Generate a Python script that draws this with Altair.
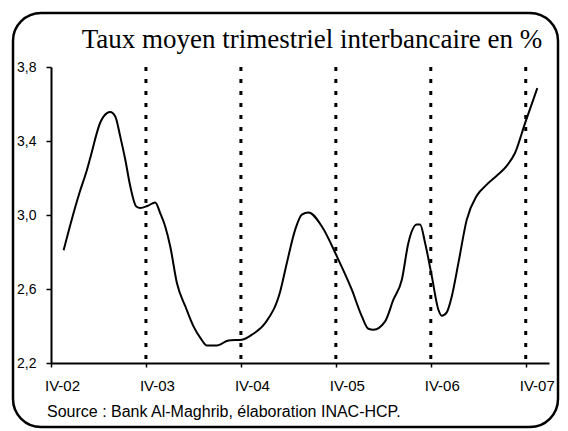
import altair as alt
import pandas as pd

# Years elapsed since IV-02 (x position) and interbank rate in %
period_years = [0.133, 0.221, 0.300, 0.379, 0.414, 0.519, 0.589, 0.624, 0.677, 0.729,
                0.782, 0.835, 0.898, 0.940, 1.020, 1.098, 1.150, 1.203, 1.256, 1.326,
                1.420, 1.501, 1.580, 1.642, 1.747, 1.869, 2.011, 2.116, 2.256, 2.414,
                2.484, 2.572, 2.642, 2.712, 2.853, 3.011, 3.168, 3.274, 3.343, 3.396,
                3.519, 3.606, 3.695, 3.764, 3.853, 3.887, 3.940, 4.011, 4.080, 4.116,
                4.168, 4.221, 4.291, 4.379, 4.484, 4.589, 4.700, 4.800, 4.887, 4.993,
                5.122]
rate = [2.81, 2.98, 3.12, 3.245, 3.31, 3.50, 3.551, 3.557, 3.533, 3.425,
        3.30, 3.155, 3.046, 3.038, 3.05, 3.068, 3.01, 2.938, 2.83, 2.632,
        2.50, 2.398, 2.33, 2.294, 2.294, 2.322, 2.326, 2.353, 2.416, 2.587,
        2.741, 2.921, 3.002, 3.014, 2.938, 2.776, 2.596, 2.452, 2.385, 2.380,
        2.425, 2.542, 2.650, 2.849, 2.948, 2.948, 2.849, 2.668, 2.488, 2.456,
        2.474, 2.560, 2.741, 2.975, 3.104, 3.164, 3.215, 3.266, 3.335, 3.497,
        3.686]

tick_years = [0, 1, 2, 3, 4, 5]
tick_labels = ["IV-02", "IV-03", "IV-04", "IV-05", "IV-06", "IV-07"]
dotted_years = [1, 2, 3, 4, 5]
y_ticks = [2.2, 2.6, 3.0, 3.4, 3.8]

title_text = "Taux moyen trimestriel interbancaire en %"
source_text = "Source : Bank Al-Maghrib, élaboration INAC-HCP."

series = pd.DataFrame({"t": period_years, "v": rate})
dotted = pd.DataFrame({"t": dotted_years, "top": [3.8] * len(dotted_years),
                       "bottom": [2.2] * len(dotted_years)})
title_df = pd.DataFrame({"label": [title_text]})
source_df = pd.DataFrame({"label": [source_text]})

label_map = "[" + ",".join("'%s'" % s for s in tick_labels) + "][datum.value]"

x_enc = alt.X(
    "t:Q",
    scale=alt.Scale(domain=[0, 5.245], nice=False, zero=False),
    axis=alt.Axis(values=tick_years, labelExpr=label_map, title=None, grid=False,
                  tickSize=4, tickWidth=1.5, labelOffset=11, labelPadding=11,
                  labelFlush=False, labelAlign="center",
                  labelFontSize=15, labelFont="Liberation Sans", labelColor="black",
                  domainColor="black", tickColor="black", domainWidth=2),
)
y_enc = alt.Y(
    "v:Q",
    scale=alt.Scale(domain=[2.2, 3.8], nice=False, zero=False),
    axis=alt.Axis(values=y_ticks, labelExpr="replace(format(datum.value, '.1f'), '.', ',')",
                  title=None, grid=False, tickSize=5, tickWidth=1.5, labelPadding=10,
                  labelFlush=False,
                  labelFontSize=14, labelFont="Liberation Sans", labelColor="black",
                  domainColor="black", tickColor="black", domainWidth=2),
)

border = alt.Chart(title_df).mark_rect(
    fill=None, stroke="black", strokeWidth=2.5, cornerRadius=28
).encode(x=alt.value(-38), x2=alt.value(507), y=alt.value(-54), y2=alt.value(360))

line = alt.Chart(series).mark_line(color="black", strokeWidth=2, interpolate="monotone").encode(
    x=x_enc, y=y_enc
)

rules = alt.Chart(dotted).mark_rule(color="black", strokeWidth=3, strokeDash=[4, 8]).encode(
    x="t:Q", y="top:Q", y2="bottom:Q"
)

title = alt.Chart(title_df).mark_text(
    font="Liberation Serif", fontSize=27, color="black", align="center", baseline="alphabetic"
).encode(text="label:N", x=alt.value(261), y=alt.value(-19))

source = alt.Chart(source_df).mark_text(
    font="Liberation Sans", fontSize=16, color="black", align="left", baseline="alphabetic"
).encode(text="label:N", x=alt.value(-4), y=alt.value(350))

chart = alt.layer(rules, line, border, title, source).properties(
    width=498, height=296,
    padding={"left": 43, "top": 59, "right": 11, "bottom": 66},
    autosize=alt.AutoSizeParams(type="none"),
    background="white",
).configure_view(stroke=None)

chart.save("out.html", embed_options={"renderer": "svg", "actions": False})
